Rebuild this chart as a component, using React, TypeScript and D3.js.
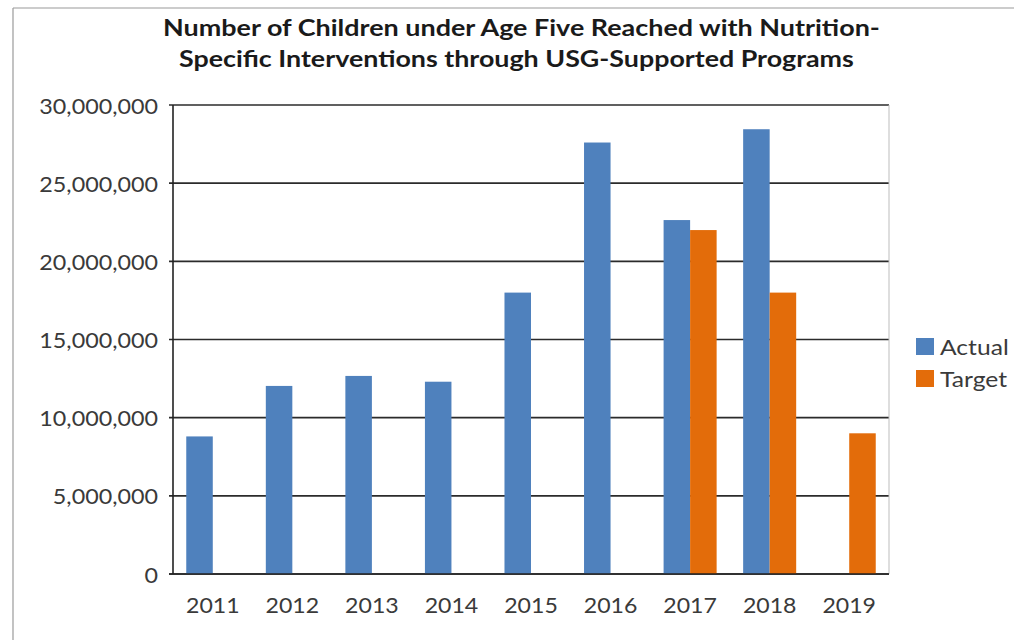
import React from "react";
import * as d3 from "d3";

const years = ["2011", "2012", "2013", "2014", "2015", "2016", "2017", "2018", "2019"];
const actual: (number | null)[] = [8800000, 12030000, 12670000, 12300000, 18000000, 27600000, 22640000, 28450000, null];
const target: (number | null)[] = [null, null, null, null, null, null, 22000000, 18000000, 9000000];
const seriesNames = ["Actual", "Target"];
const seriesColors = ["#4F81BD", "#E36C0A"];
const yTicks = [0, 5000000, 10000000, 15000000, 20000000, 25000000, 30000000];
const titleLines = [
  "Number of Children under Age Five Reached with Nutrition-",
  "Specific Interventions through USG-Supported Programs",
];

const W = 1014;
const H = 640;
const plot = { left: 173, right: 889, top: 105, bottom: 574 };
const font = "Lato, 'Open Sans', sans-serif";

// Text drawn with a slight horizontal stretch around its anchor point
function Label(props: {
  x: number;
  y: number;
  sx: number;
  size: number;
  anchor?: "start" | "middle" | "end";
  weight?: number;
  fill?: string;
  children: React.ReactNode;
}) {
  const { x, y, sx, size, anchor = "start", weight = 400, fill = "#3a3a3a", children } = props;
  return (
    <text
      transform={`translate(${x},${y}) scale(${sx},1)`}
      textAnchor={anchor}
      fontFamily={font}
      fontWeight={weight}
      fontSize={size}
      fill={fill}
    >
      {children}
    </text>
  );
}

export default function App() {
  const x = d3.scaleBand<string>().domain(years).range([plot.left, plot.right]).paddingInner(0).paddingOuter(0);
  const barW = x.bandwidth() / 3;
  const sub = d3.scaleBand<string>().domain(seriesNames).range([barW / 2, barW / 2 + 2 * barW]);
  const y = d3.scaleLinear().domain([0, 30000000]).range([plot.bottom, plot.top]);
  const fmt = d3.format(",");
  const series = [actual, target];

  return (
    <svg width={W} height={H} style={{ position: "absolute", left: 0, top: 0, background: "#fff" }}>
      <rect x={0} y={0} width={W} height={H} fill="#fff" />
      {/* outer chart frame */}
      <line x1={13} x2={W} y1={8} y2={8} stroke="#9a9a9a" strokeWidth={1.2} />
      <line x1={13} x2={13} y1={8} y2={H} stroke="#9a9a9a" strokeWidth={1.2} />

      {/* title */}
      <Label x={163} y={36} sx={1.225} size={22} weight={700} fill="#1a1a1a">
        {titleLines[0]}
      </Label>
      <Label x={179} y={67} sx={1.22} size={22} weight={700} fill="#1a1a1a">
        {titleLines[1]}
      </Label>

      {/* gridlines */}
      {yTicks.map((v) => (
        <line key={v} x1={plot.left - 4} x2={plot.right} y1={y(v)} y2={y(v)} stroke="#2b2b2b" strokeWidth={1.6} />
      ))}
      {/* right border */}
      <line x1={plot.right} x2={plot.right} y1={plot.top} y2={plot.bottom} stroke="#bdbdbd" strokeWidth={1} />

      {/* bars */}
      {series.map((vals, si) =>
        vals.map((v, i) =>
          v == null ? null : (
            <rect
              key={`${si}-${i}`}
              x={(x(years[i]) as number) + (sub(seriesNames[si]) as number)}
              y={y(v)}
              width={barW}
              height={plot.bottom - y(v)}
              fill={seriesColors[si]}
            />
          )
        )
      )}

      {/* axes */}
      <line x1={plot.left} x2={plot.left} y1={plot.top} y2={plot.bottom} stroke="#222" strokeWidth={1.6} />
      <line x1={plot.left - 4} x2={plot.right} y1={plot.bottom} y2={plot.bottom} stroke="#222" strokeWidth={1.6} />

      {/* y tick labels */}
      {yTicks.map((v) => (
        <Label key={v} x={158} y={y(v) + 8.5} sx={1.11} size={21} anchor="end">
          {v === 0 ? "0" : fmt(v)}
        </Label>
      ))}
      {/* x tick labels */}
      {years.map((yr) => (
        <Label key={yr} x={(x(yr) as number) + x.bandwidth() / 2} y={613} sx={1.1} size={21} anchor="middle">
          {yr}
        </Label>
      ))}

      {/* legend */}
      {seriesNames.map((n, i) => (
        <g key={n}>
          <rect x={916} y={338 + i * 32} width={18} height={17} fill={seriesColors[i]} />
          <Label x={940} y={355 + i * 32} sx={1.12} size={22}>
            {n}
          </Label>
        </g>
      ))}
    </svg>
  );
}
